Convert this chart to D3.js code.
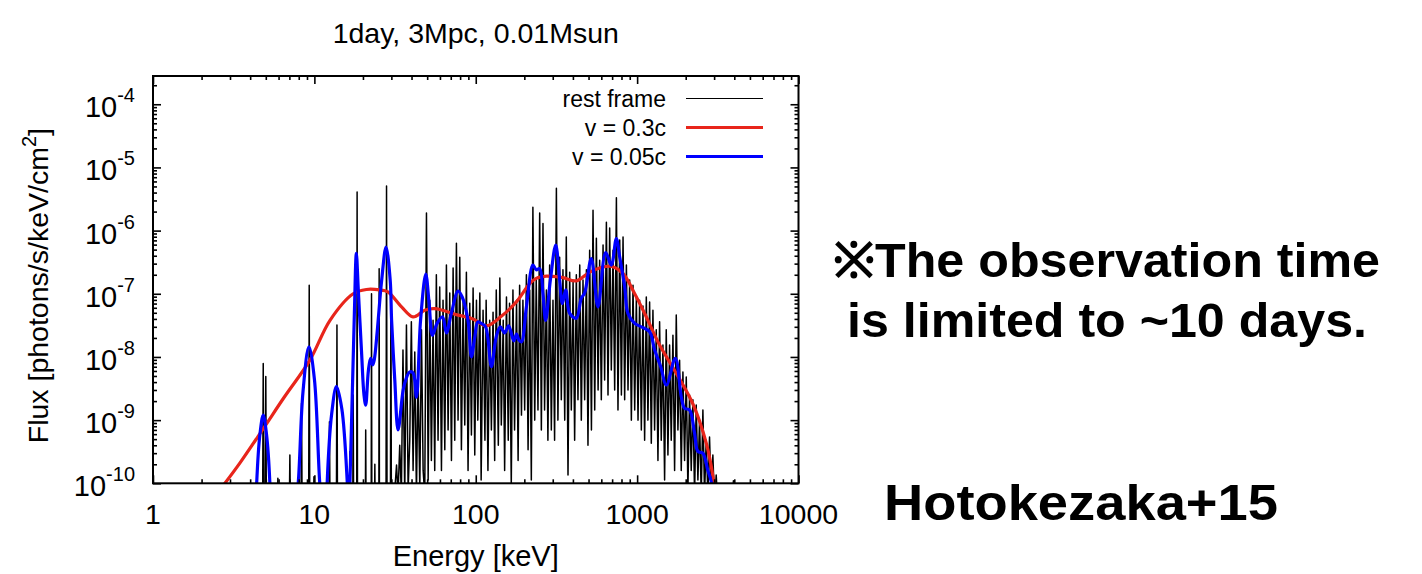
<!DOCTYPE html>
<html>
<head>
<meta charset="utf-8">
<script src="https://cdnjs.cloudflare.com/ajax/libs/d3/7.8.5/d3.min.js"></script>
<style>
  body { margin: 0; background: #fff; }
  svg { font-family: "Liberation Sans", Arial, Helvetica, sans-serif; }
  .tics line { stroke: #000; stroke-width: 1.6; }
</style>
</head>
<body>
<svg id="chart" width="1422" height="574"></svg>
<script>
// rest frame spectrum (keV, photons/s/keV/cm^2)
var restE = [1,
  4.78, 4.82, 4.86, 4.96, 5.0, 5.04, 5.9, 5.94, 5.98, 7.0, 7.05, 7.1,
  8.27, 8.33, 8.39, 9.22, 9.29, 9.36, 9.87, 9.94, 10.0, 12.3, 12.4, 12.5,
  13.7, 13.8, 13.9, 16.5, 16.6, 16.7, 17.3, 17.4, 17.5, 18.3, 18.4, 18.5,
  20.7, 20.8, 20.9, 22.5, 22.6, 22.7, 23.6, 23.7, 23.8, 25.1, 25.2, 25.3,
  27.8, 28.0, 28.2, 29.6, 29.8, 30.0,
  31.5, 32.3, 33.0, 33.8, 34.6, 35.4,
  36.3, 37.2, 38.1, 39.0, 39.9, 40.9,
  41.9, 42.9, 43.9, 45.0, 46.1, 47.2,
  48.3, 49.5, 50.7, 51.9, 53.1, 54.4,
  55.7, 57.0, 58.4, 59.8, 61.3, 62.7,
  64.3, 65.8, 67.4, 69.0, 70.7, 72.4,
  74.1, 75.9, 77.7, 79.6, 81.5, 83.5,
  85.5, 87.5, 89.6, 91.8, 94.0, 96.3,
  98.6, 101, 103, 106, 108, 111,
  114, 116, 119, 122, 125, 128,
  131, 134, 138, 141, 144, 148,
  151, 155, 159, 162, 166, 170,
  174, 179, 183, 187, 192, 196,
  201, 206, 211, 216, 221, 226,
  232, 237, 243, 249, 255, 261,
  267, 274, 280, 287, 294, 301,
  308, 316, 323, 331, 339, 347,
  356, 364, 373, 382, 391, 401,
  410, 420, 430, 441, 451, 462,
  473, 485, 496, 508, 521, 533,
  546, 559, 573, 586, 600, 615,
  629, 645, 660, 676, 692, 709,
  726, 744, 761, 780, 799, 818,
  837, 858, 878, 899, 921, 943,
  966, 989, 1013, 1036, 1062, 1087,
  1113, 1140, 1167, 1195, 1224, 1253,
  1283, 1314, 1346, 1378, 1411, 1445,
  1480, 1515, 1552, 1589, 1627, 1667,
  1707, 1748, 1790, 1833, 1877, 1922,
  1968, 2016, 2064, 2113, 2164, 2216,
  2270, 2324, 2380, 2437, 2496, 2556,
  2617, 2680, 2744, 2810, 2878, 2947,
  3018, 3090, 3160, 3900, 3950, 4000, 10000];
var restF = [5e-11,
  5e-11, 7.9e-9, 5e-11, 5e-11, 4.9e-9, 5e-11, 5e-11, 1.2e-10, 5e-11, 5e-11, 2.8e-10, 5e-11,
  5e-11, 1.85e-9, 5e-11, 5e-11, 1.37e-7, 5e-11, 5e-11, 1.27e-10, 5e-11, 5e-11, 9.4e-10, 5e-11,
  5e-11, 3.2e-8, 5e-11, 5e-11, 3.2e-10, 5e-11, 5e-11, 2.5e-9, 5e-11, 5e-11, 4.1e-6, 5e-11,
  5e-11, 7e-10, 5e-11, 5e-11, 1e-7, 5e-11, 5e-11, 2e-10, 5e-11, 5e-11, 2.5e-7, 5e-11,
  5e-11, 5.1e-6, 5e-11, 5e-11, 1.4e-7, 5e-11,
  7.8e-11, 1.95e-10, 6.5e-11, 4e-10, 6.5e-11, 1.29e-8,
  6.5e-11, 3.2e-8, 7.8e-11, 4.8e-10, 3.6e-8, 1.6e-10,
  1.2e-8, 6.5e-11, 5.6e-9, 7.8e-11, 2.7e-8, 1.6e-10,
  6.5e-11, 1.9e-6, 1.13e-10, 7.9e-8, 2.3e-10, 3.8e-8,
  1.6e-10, 2e-7, 4.8e-10, 1.28e-7, 1.6e-10, 7.9e-8,
  3.4e-10, 2.85e-7, 7e-10, 1.03e-7, 2.3e-10, 2.55e-7,
  4.8e-10, 6.3e-7, 1e-9, 3.8e-7, 3.4e-10, 7.9e-8,
  8.4e-10, 2.2e-7, 1.6e-10, 7.1e-8, 5.8e-10, 1.23e-7,
  2.8e-10, 7.9e-8, 1e-9, 1.03e-7, 1.13e-10, 5.5e-8,
  4.8e-10, 7.9e-8, 1.6e-10, 3.8e-8, 7e-10, 5.1e-8,
  2.3e-10, 1.15e-7, 4e-10, 1.77e-7, 8.4e-10, 3.8e-8,
  1.6e-10, 8.9e-8, 4.8e-10, 7.1e-8, 9e-11, 1.15e-7,
  7e-10, 7.9e-8, 2.3e-10, 1.37e-7, 1.2e-9, 7.9e-8,
  1.45e-9, 2e-7, 3.4e-10, 1.15e-7, 1.13e-10, 2.35e-6,
  1e-9, 1.65e-7, 1.45e-9, 1.9e-6, 7e-10, 1.3e-6,
  1.45e-9, 1.15e-7, 4.8e-10, 2.85e-7, 7e-10, 7.9e-8,
  4.8e-10, 4.7e-6, 1e-9, 3.8e-7, 2.1e-9, 2.4e-7,
  1e-9, 7.9e-7, 1.35e-10, 2.2e-7, 1.45e-9, 1.53e-7,
  4.8e-10, 2e-7, 2.1e-9, 2.85e-7, 1e-9, 1.65e-7,
  2.1e-9, 2.4e-7, 4e-10, 4.9e-7, 7e-10, 2.1e-6,
  1.45e-9, 7.6e-7, 3e-9, 3.4e-7, 2.1e-9, 5.9e-7,
  4.3e-9, 1.36e-6, 2.5e-9, 1.1e-6, 6.2e-9, 4.9e-7,
  3e-9, 3.3e-6, 1.45e-9, 7.1e-7, 2.5e-9, 7.9e-7,
  2.1e-9, 2.85e-7, 3e-9, 1.65e-7, 1e-9, 1.37e-7,
  1.45e-9, 8.6e-8, 1e-9, 7.9e-8, 7e-10, 6.4e-8,
  4.8e-10, 8.9e-8, 1e-9, 7.4e-8, 4.3e-10, 5.5e-8,
  7e-10, 2.7e-8, 2.3e-10, 3.6e-8, 4.8e-10, 1.54e-8,
  1.13e-10, 2.7e-8, 2.8e-10, 1.54e-8, 4.8e-10, 2.2e-8,
  1.6e-10, 4.6e-8, 7e-10, 8.9e-9, 1.6e-10, 5.8e-9,
  2.3e-10, 4.8e-9, 7.8e-11, 2.5e-9, 1.6e-10, 2.1e-9,
  6.5e-11, 1.73e-9, 1.13e-10, 1e-9, 6.5e-11, 1.45e-9,
  6.5e-11, 4.8e-10, 6.5e-11, 5.4e-10, 6.5e-11, 2.8e-10,
  5e-11, 1.35e-10, 5e-11, 5e-11, 1.1e-10, 5e-11, 5e-11];

// v = 0.3c
var fastE = [2.5, 2.79, 3.46, 4.8, 6.5, 9.38, 12.5, 17.4, 21, 25.4, 28.5, 34.7, 40.9,
  48.3, 55.7, 77.7, 96, 116, 144, 179, 216, 237, 274, 301, 347, 420, 508, 638, 700,
  817, 966, 1140, 1378, 1749, 2217, 2682, 2947, 3100];
var fastF = [7e-11, 1e-10, 2.1e-10, 7.2e-10, 2.3e-9, 8.9e-9, 3.8e-8, 1e-7, 1.17e-7, 1.15e-7, 1.07e-7, 6.2e-8, 4.3e-8,
  5.5e-8, 5.8e-8, 4.6e-8, 4e-8, 3.1e-8, 4.4e-8, 7.5e-8, 1.45e-7, 1.75e-7, 1.9e-7, 1.88e-7, 1.8e-7, 1.6e-7, 2.2e-7, 2.7e-7, 2.7e-7,
  2.1e-7, 1e-7, 4.3e-8, 1.54e-8, 5.5e-9, 1.8e-9, 4.3e-10, 1.3e-10, 4e-11];

// v = 0.05c
var slowE = [4.2, 4.39, 4.6, 4.82, 5.05, 5.3, 5.5, 6.5,
  7.6, 7.94, 8.5, 9.25, 10.0, 10.8, 11.2, 11.6,
  12.0, 12.8, 13.7, 14.8, 16.0, 16.3,
  16.6, 17.2, 17.7, 18.2, 18.7, 19.6, 20.3, 20.8, 21.6, 22.3, 23.0, 23.5, 24.5, 26.1, 27.8, 29.5, 30.1, 31.5, 33.0,
  35.5, 37.0, 39.0, 40.9, 42.9, 45.5, 49.0, 51.4, 53.9, 57.6,
  62.2, 65.8, 70.6, 77.7, 82.4, 89.5, 94.0, 98.6, 103, 108,
  115, 125, 134, 142, 151, 160, 172, 179, 185, 192,
  206, 226, 237, 249, 261, 271, 290, 313, 331, 344,
  361, 382, 420, 451, 473, 520, 572, 638, 692, 743,
  780, 837, 877, 966, 1062, 1195, 1283, 1400, 1517, 1725,
  1880, 1968, 2113, 2270, 2380, 2555, 2743, 2880, 3000];
var slowF = [1e-12, 1e-10, 6e-10, 1.2e-9, 6e-10, 1e-10, 1e-12, 1e-15,
  3.7e-11, 1e-10, 2.8e-9, 1.45e-8, 4.5e-9, 1e-10, 3.8e-11, 1e-12,
  1e-10, 1.26e-9, 3.4e-9, 1.5e-9, 1e-10, 3e-11,
  1e-10, 3e-9, 5e-8, 4.35e-7, 1.2e-7, 1.2e-8, 2.5e-9, 1.73e-9, 6e-9, 9.5e-9, 7.5e-9, 9e-9, 2.5e-8, 1.6e-7, 5.5e-7, 1.65e-7, 3.8e-8, 4.3e-9, 7e-10,
  3e-9, 4.5e-9, 5.8e-9, 5.6e-9, 2.3e-9, 3.8e-8, 2.05e-7, 7.1e-8, 2.2e-8, 3.4e-8,
  4.3e-8, 2.4e-8, 4.9e-8, 1.1e-7, 8.9e-8, 3.8e-8, 1e-8, 2.05e-8, 3.6e-8, 3.4e-8,
  3e-8, 7e-9, 2.1e-8, 3e-8, 2.4e-8, 3.1e-8, 1.8e-8, 2.3e-8, 1.85e-8, 1.74e-8,
  6.2e-8, 2.85e-7, 2.4e-7, 2.5e-7, 1e-7, 3.8e-8, 1.65e-7, 5.9e-7, 1.65e-7, 7e-8,
  1.15e-7, 4.9e-8, 4.1e-8, 8.5e-8, 1.03e-7, 3.6e-7, 6.2e-8, 4.5e-7, 2.85e-7, 7.5e-7,
  3.8e-7, 1.3e-7, 4.9e-8, 3.4e-8, 3e-8, 2.5e-8, 1.3e-8, 7e-9, 3.6e-9, 9.5e-9,
  2.3e-9, 1.54e-9, 1.45e-9, 6.2e-10, 3.2e-10, 3e-10, 1.6e-10, 1.06e-10, 4e-11];

var xTicks = [1, 10, 100, 1000, 10000];
var yExponents = [-10, -9, -8, -7, -6, -5, -4];
var seriesNames = ['rest frame', 'v = 0.3c', 'v = 0.05c'];
var seriesColors = ['#000000', '#e8251b', '#0000ff'];
var seriesWidths = [1.5, 3.2, 3.2];
var noteLines = ['\u203BThe observation time', 'is limited to ~10 days.'];
var citation = 'Hotokezaka+15';

var svg = d3.select('#chart');
var plot = { left: 153, right: 798.5, top: 76, bottom: 483.3 };

var x = d3.scaleLog().domain([1, 10000]).range([plot.left, plot.right]);
var y = d3.scaleLog().domain([1e-10, 2.8e-4]).range([plot.bottom, plot.top]);

var minorX = [], minorY = [];
xTicks.slice(0, -1).forEach(function(d) {
  for (var k = 2; k < 10; k++) minorX.push(d * k);
});
yExponents.forEach(function(e) {
  for (var k = 2; k < 10; k++) {
    var v = k * Math.pow(10, e);
    if (v < y.domain()[1]) minorY.push(v);
  }
});
var majorY = yExponents.map(function(e) { return Math.pow(10, e); });

svg.append('defs').append('clipPath').attr('id', 'plotClip')
  .append('rect')
  .attr('x', plot.left).attr('y', plot.top)
  .attr('width', plot.right - plot.left).attr('height', plot.bottom - plot.top);

var lines = svg.append('g').attr('clip-path', 'url(#plotClip)');

var lineGen = d3.line()
  .x(function(d) { return x(d[0]); })
  .y(function(d) { return y(d[1]); });

var smoothGen = d3.line()
  .x(function(d) { return x(d[0]); })
  .y(function(d) { return y(d[1]); })
  .curve(d3.curveCatmullRom.alpha(0.5));

var series = [d3.zip(restE, restF), d3.zip(fastE, fastF), d3.zip(slowE, slowF)];

lines.selectAll('path.spec')
  .data(series)
  .enter().append('path')
  .attr('class', 'spec')
  .attr('fill', 'none')
  .attr('stroke', function(d, i) { return seriesColors[i]; })
  .attr('stroke-width', function(d, i) { return seriesWidths[i]; })
  .attr('stroke-linejoin', 'round')
  .attr('d', function(d, i) { return i === 0 ? lineGen(d) : smoothGen(d); });

// tics, all pointing inward and mirrored
function tics(axis, transform) {
  svg.append('g').attr('class', 'tics')
    .attr('transform', transform)
    .call(axis)
    .call(function(g) { g.select('.domain').remove(); g.selectAll('text').remove(); });
}
tics(d3.axisBottom(x).tickValues(xTicks).tickSize(-8), 'translate(0,' + plot.bottom + ')');
tics(d3.axisBottom(x).tickValues(minorX).tickSize(-4), 'translate(0,' + plot.bottom + ')');
tics(d3.axisTop(x).tickValues(xTicks).tickSize(-8), 'translate(0,' + plot.top + ')');
tics(d3.axisTop(x).tickValues(minorX).tickSize(-4), 'translate(0,' + plot.top + ')');
tics(d3.axisLeft(y).tickValues(majorY).tickSize(-8), 'translate(' + plot.left + ',0)');
tics(d3.axisLeft(y).tickValues(minorY).tickSize(-4), 'translate(' + plot.left + ',0)');
tics(d3.axisRight(y).tickValues(majorY).tickSize(-8), 'translate(' + plot.right + ',0)');
tics(d3.axisRight(y).tickValues(minorY).tickSize(-4), 'translate(' + plot.right + ',0)');

svg.append('rect')
  .attr('x', plot.left).attr('y', plot.top)
  .attr('width', plot.right - plot.left).attr('height', plot.bottom - plot.top)
  .attr('fill', 'none').attr('stroke', '#000').attr('stroke-width', 2);

// tick labels
svg.selectAll('.xLabel')
  .data(xTicks)
  .enter().append('text')
  .attr('class', 'xLabel')
  .attr('x', function(d) { return x(d); })
  .attr('y', 524)
  .attr('text-anchor', 'middle')
  .style('font-size', '28.5px')
  .text(function(d) { return d; });

var yLab = svg.selectAll('.yLabel')
  .data(yExponents)
  .enter().append('text')
  .attr('class', 'yLabel')
  .attr('x', 135)
  .attr('y', function(d) { return y(Math.pow(10, d)) + 13; })
  .attr('text-anchor', 'end')
  .style('font-size', '29px');
yLab.append('tspan').text('10');
yLab.append('tspan')
  .attr('dy', -15)
  .style('font-size', '20px')
  .text(function(d) { return d; });

// axis titles
svg.append('text')
  .attr('x', (plot.left + plot.right) / 2).attr('y', 43)
  .attr('text-anchor', 'middle')
  .style('font-size', '28.5px')
  .text('1day, 3Mpc, 0.01Msun');

svg.append('text')
  .attr('x', (plot.left + plot.right) / 2).attr('y', 566)
  .attr('text-anchor', 'middle')
  .style('font-size', '29px')
  .text('Energy [keV]');

var yTitle = svg.append('text')
  .attr('transform', 'translate(48,' + ((plot.top + plot.bottom) / 2 + 6) + ') rotate(-90)')
  .attr('text-anchor', 'middle')
  .style('font-size', '28.5px');
yTitle.append('tspan').text('Flux [photons/s/keV/cm');
yTitle.append('tspan').attr('dy', -12).style('font-size', '20px').text('2');
yTitle.append('tspan').attr('dy', 12).text(']');

// legend
var legend = svg.append('g').attr('class', 'legend');
var rows = legend.selectAll('g')
  .data(seriesNames)
  .enter().append('g')
  .attr('transform', function(d, i) { return 'translate(0,' + (98.5 + i * 29) + ')'; });
rows.append('text')
  .attr('x', 666).attr('y', 8)
  .attr('text-anchor', 'end')
  .style('font-size', '23px')
  .text(function(d) { return d; });
rows.append('line')
  .attr('x1', 686).attr('x2', 763)
  .attr('stroke', function(d, i) { return seriesColors[i]; })
  .attr('stroke-width', function(d, i) { return i === 0 ? 1.2 : seriesWidths[i]; });

// side notes
var noteWidths = [547, 520];
svg.selectAll('.note')
  .data(noteLines)
  .enter().append('text')
  .attr('class', 'note')
  .attr('x', function(d, i) { return i === 0 ? 833 : 847; })
  .attr('y', function(d, i) { return 277 + i * 60; })
  .attr('textLength', function(d, i) { return noteWidths[i]; })
  .attr('lengthAdjust', 'spacingAndGlyphs')
  .style('font-size', '49px')
  .style('font-weight', 'bold')
  .text(function(d) { return d; });

svg.append('text')
  .attr('x', 884).attr('y', 520)
  .attr('textLength', 394)
  .attr('lengthAdjust', 'spacingAndGlyphs')
  .style('font-size', '50px')
  .style('font-weight', 'bold')
  .text(citation);
</script>
</body>
</html>
